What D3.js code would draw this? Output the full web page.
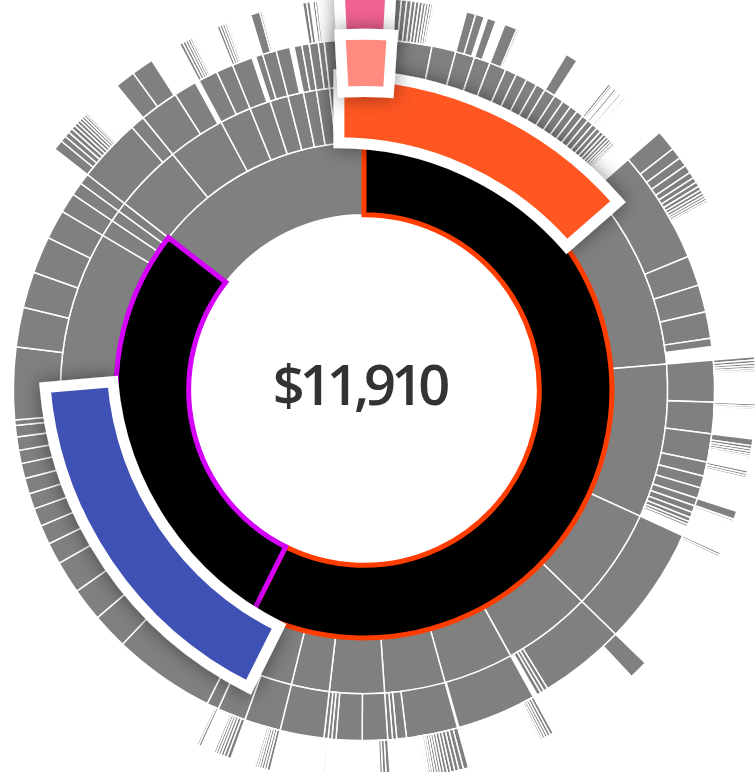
<!DOCTYPE html>
<html>
<head>
<meta charset="utf-8">
<script src="https://cdn.jsdelivr.net/npm/d3@7"></script>
<style>
  body { margin: 0; background: #fff; }
  svg { display: block; }
</style>
</head>
<body>
<div id="chart"></div>
<script>
// total shown in the middle
var total = 11910;

// ring 1: [id, own value]
var ring1 = [["A", 0], ["B", 0], ["C", 0]];

// ring 2: [parent, id, own value]
var ring2 = [
  ["A", "A1", 73], ["A", "A2", 73], ["A", "A3", 53], ["A", "A4", 0], ["A", "A5", 23],
  ["A", "A6", 7], ["A", "A7", 0], ["A", "A8", 0], ["A", "A9", 0], ["A", "A10", 0],
  ["B", "B1", 0], ["B", "B2", 0], ["B", "B3", 0], ["B", "B4", 0], ["B", "B5", 0],
  ["C", "C1", 0], ["C", "C2", 23], ["C", "C3", 0], ["C", "C4", 20], ["C", "C5", 0],
  ["C", "C6", 23], ["C", "C7", 0], ["C", "C8", 0], ["C", "C9", 17], ["C", "C10", 17], ["C", "C11", 0]
];

// ring 3: [parent, id, own value]
var ring3 = [
  ["A1","a1",13],["A1","a2",119],["A1","a3",12],["A1","a4",132],["A1","a5",17],["A1","a6",46],
  ["A1","a7",5],["A1","a8",63],["A1","a9",63],["A1","a10",60],["A1","a11",53],["A1","a12",3],
  ["A1","a13",53],["A1","a14",50],["A1","a15",43],["A1","a16",40],["A1","a17",7],["A1","a18",7],
  ["A1","a19",8],["A1","a20",12],["A1","a21",23],["A1","a22",20],["A1","a23",17],["A1","a24",15],
  ["A1","a25",13],["A1","a26",12],["A1","a27",10],["A1","a28",8],["A1","a29",7],["A1","a30",7],
  ["A1","a31",5],["A1","a32",3],
  ["A2","b1",194],["A2","b2",165],["A2","b3",149],["A2","b4",146],["A2","b5",46],
  ["A3","c1",154],["A3","c2",106],["A3","c3",53],["A3","c4",15],["A3","c5",66],["A3","c6",60],
  ["A3","c7",3],["A3","c8",7],["A3","c9",18],["A3","c10",23],["A3","c11",17],["A3","c12",13],
  ["A4","d1",607],
  ["A5","e1",380],["A5","e2",23],["A5","e3",20],["A5","e4",23],
  ["A6","f1",362],
  ["A7","g1",46],["A7","g2",53],["A7","g3",23],["A7","g4",26],
  ["A8","h1",89],["A8","h2",142],["A8","h3",23],["A8","h4",20],["A8","h5",15],
  ["A9","i1",241],
  ["A10","j1",109],["A10","j2",69],["A10","j3",36],
  ["B1","B1a",562],["B1","B1b",198],["B1","B1c",182],["B1","B1d",179],["B1","B1e",119],
  ["B1","B1f",106],["B1","B1g",99],["B1","B1h",86],["B1","B1i",86],["B1","B1j",83],
  ["B1","B1k",73],["B1","B1l",73],["B1","B1m",63],["B1","B1n",30],
  ["B2","B2a",397],["B2","B2b",218],["B2","B2c",198],["B2","B2d",202],["B2","B2e",162],
  ["B3","B3a",109],["B4","B4a",73],["B5","B5a",60],
  ["C1","C1a",91],["C1","C1b",79],
  ["C2","C2a",7],["C2","C2b",126],
  ["C3","C3a",25],["C3","C3b",93],
  ["C4","C4a",43],
  ["C5","C5a",40],["C5","C5b",5],
  ["C6","C6a",76],
  ["C7","C7a",43],["C7","C7b",40],
  ["C8","C8a",13],["C8","C8b",10],
  ["C9","C9a",66],["C10","C10a",50],["C11","C11a",66]
];

// ring 4: [parent, leaf values]
var ring4 = [
  ["a1",[10]],
  ["a3",[40,26,23,20,18,17,15,13,12,10,8,7,5,3]],
  ["a5",[46,43]],["a6",[43]],["a7",[63,10,8,7]],["a12",[60]],
  ["a17",[13,10,7]],["a18",[12,8,7]],["a19",[10,7,5]],["a20",[8,7]],
  ["b1",[103,56,46,40,30,26,23,20,17,15,13,12,10,8,7]],
  ["c1",[17,15,13,12,10,8]],["c2",[12,10,8,7,7,5,5,3,3,3,3]],
  ["c3",[33,15,13,12,10,8,7,5]],["c4",[13,12,10,8,7,7,5]],
  ["c7",[40]],["c8",[10,8,7,5]],["c9",[7,5]],
  ["d1",[12,10,8,7,5]],
  ["e1",[93]],
  ["f1",[17,15,13,12,10,8]],
  ["g1",[26,23,20,20,17,17,15,13,13,12,10,10,8,8,7,7,5,5]],
  ["h1",[20,17,13]],["h5",[8]],
  ["j1",[17,13,13,12,10,10,8,7]],["j2",[20,17,15,13,12,10]],["j3",[13,10,7]],
  ["C1a",[50,30,26,23,20,18,17,15,13,12,10,8,7,7,5]],
  ["C2a",[99,109]],
  ["C3a",[17,15,13,12,10,8,7]],
  ["C4a",[15,13,12,10,8,7,5]],
  ["C5b",[46,10,8,7]],
  ["C8a",[20,17]],["C8b",[13,10]]
];

// selected path: depth-1 outlines and popped-out arcs (drawn in this order)
var outlineColors = [["A", "#ff3d00"], ["B", "#d500f9"]];
var popColors = [["B1", "#3f51b5"], ["A1", "#ff5722"], ["a1-0", "#f06292"], ["a1", "#ff8a80"]];

var W = 755, H = 772, cx = 364, cy = 390, R = 392;

var rows = [{id: "root", parent: null, value: 0}];
ring1.forEach(function (r) { rows.push({id: r[0], parent: "root", value: r[1]}); });
ring2.forEach(function (r) { rows.push({id: r[1], parent: r[0], value: r[2]}); });
ring3.forEach(function (r) { rows.push({id: r[1], parent: r[0], value: r[2]}); });
ring4.forEach(function (r) {
  r[1].forEach(function (v, i) { rows.push({id: r[0] + "-" + i, parent: r[0], value: v}); });
});

var root = d3.stratify().id(d => d.id).parentId(d => d.parent)(rows)
  .sum(d => d.value);
d3.partition().size([2 * Math.PI, R * R])(root);

var arc = d3.arc()
  .startAngle(d => d.x0).endAngle(d => d.x1)
  .innerRadius(d => Math.sqrt(d.y0)).outerRadius(d => Math.sqrt(d.y1));

var outlineMap = new Map(outlineColors);
var popMap = new Map(popColors);

var svg = d3.select("#chart").append("svg").attr("width", W).attr("height", H);

var defs = svg.append("defs");
var f = defs.append("filter").attr("id", "shadow")
  .attr("x", "-50%").attr("y", "-50%").attr("width", "200%").attr("height", "200%");
f.append("feDropShadow").attr("dx", 0).attr("dy", 0).attr("stdDeviation", 8)
  .attr("flood-color", "#000").attr("flood-opacity", 0.45);

var g = svg.append("g").attr("transform", "translate(" + cx + "," + cy + ")");

var nodes = root.descendants().filter(d => d.depth > 0);

// plain gray arcs
g.append("g").selectAll("path")
  .data(nodes.filter(d => !outlineMap.has(d.id) && !popMap.has(d.id)))
  .join("path")
  .attr("d", arc)
  .attr("fill", "#808080")
  .attr("stroke", "#fff")
  .attr("stroke-width", 1.5);

// black depth-1 arcs of the selected path
g.append("g").selectAll("path")
  .data(nodes.filter(d => outlineMap.has(d.id)))
  .join("path")
  .attr("d", arc)
  .attr("fill", "#000")
  .attr("stroke", d => outlineMap.get(d.id))
  .attr("stroke-width", 5)
  .attr("stroke-linejoin", "miter");

// popped-out arcs
var minPop = 40, popScale = 1.22;
var popNodes = popColors.map(p => nodes.find(d => d.id === p[0]));
popNodes.forEach(function (d) {
  var r0 = Math.sqrt(d.y0), r1 = Math.sqrt(d.y1), rm = (r0 + r1) / 2;
  var mid = (d.x0 + d.x1) / 2;
  var half = Math.max((d.x1 - d.x0) / 2, minPop / 2 / rm);
  var c = [rm * Math.sin(mid), -rm * Math.cos(mid)];
  var p = d3.arc()({startAngle: mid - half, endAngle: mid + half, innerRadius: r0, outerRadius: r1});
  g.append("path")
    .attr("d", p)
    .attr("transform", "translate(" + c[0] + "," + c[1] + ") scale(" + popScale + ") translate(" + (-c[0]) + "," + (-c[1]) + ")")
    .attr("fill", popMap.get(d.id))
    .attr("stroke", "#fff")
    .attr("stroke-width", 9)
    .attr("stroke-linejoin", "miter")
    .attr("filter", "url(#shadow)");
});

g.append("text")
  .attr("x", -5).attr("y", 15)
  .attr("text-anchor", "middle")
  .style("font-family", "'Open Sans', sans-serif")
  .style("font-weight", 600)
  .style("font-size", "56px")
  .style("letter-spacing", "-5px")
  .style("fill", "#333")
  .text(d3.format("$,")(total));
</script>
</body>
</html>
